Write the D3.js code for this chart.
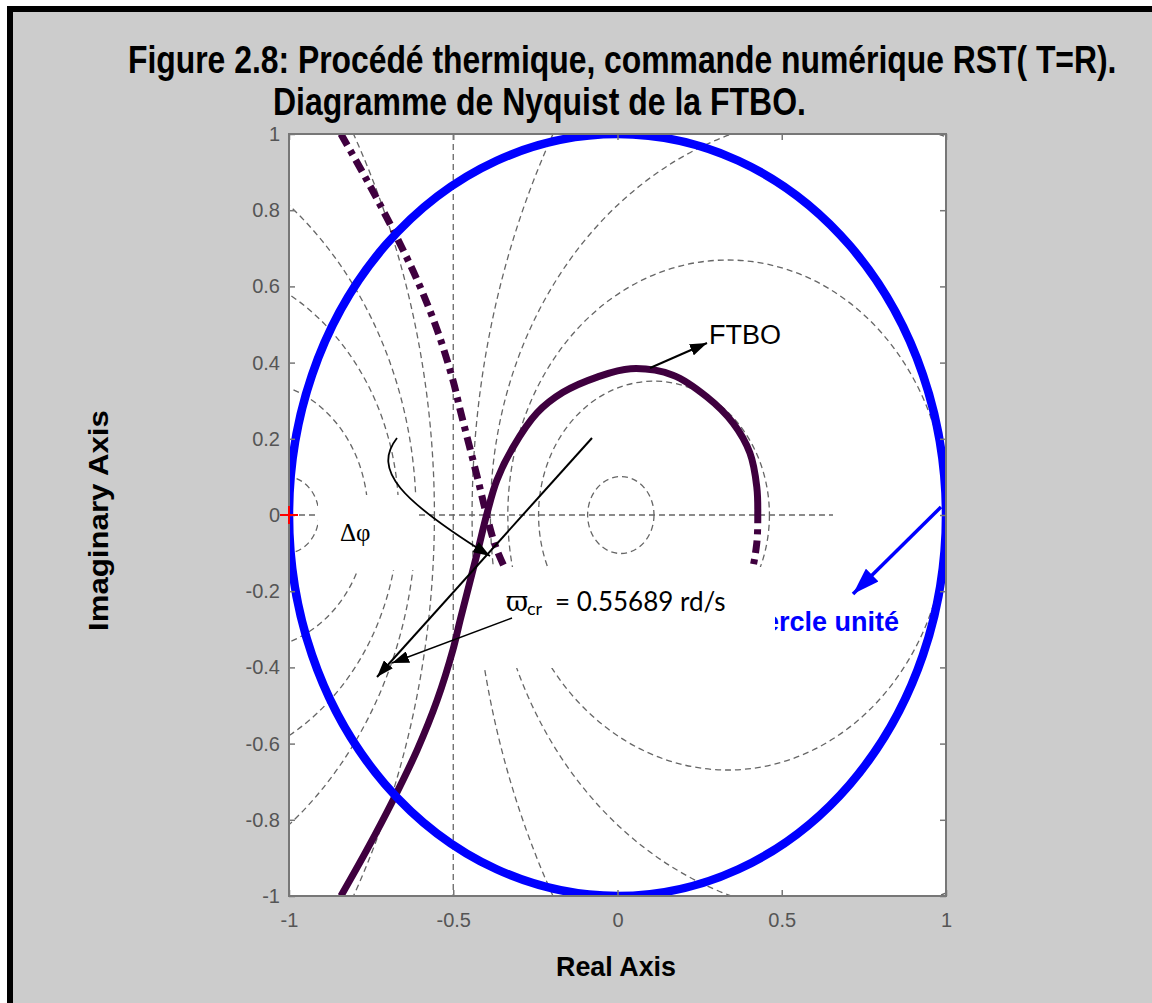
<!DOCTYPE html>
<html>
<head>
<meta charset="utf-8">
<script src="https://cdn.jsdelivr.net/npm/d3@7"></script>
<style>
  html, body { margin: 0; padding: 0; background: #fff; }
  svg { display: block; }
</style>
</head>
<body>
<script>
// FTBO, positive-frequency branch (omega from 0+ up to the Nyquist frequency): real and imaginary parts
const ftboRe = [-0.842, -0.763, -0.683, -0.610, -0.549, -0.501, -0.479, -0.427, -0.397, -0.367,
                -0.318, -0.245, -0.166, -0.062, 0.040, 0.169, 0.272, 0.352, 0.403, 0.424, 0.427];
const ftboIm = [-1.000, -0.879, -0.748, -0.617, -0.486, -0.354, -0.276, -0.100, 0.005, 0.092,
                0.178, 0.268, 0.322, 0.362, 0.384, 0.367, 0.310, 0.241, 0.163, 0.074, 0.000];

// closed-loop magnitude contours of the Nyquist grid (dB)
const gridDb = [-20, -10, -6, -4, -2, 0, 2, 4, 6, 10, 20];
// extent of the dashed real-axis grid line
const realAxisSpan = [-1, 0.656];

const xTicks = [-1, -0.5, 0, 0.5, 1];
const yTicks = [-1, -0.8, -0.6, -0.4, -0.2, 0, 0.2, 0.4, 0.6, 0.8, 1];

// critical point and crossover pulsation
const critical = [-1, 0];
const omegaCr = 0.55689;

const W = 1152, H = 1003;
const svg = d3.select("body").append("svg").attr("width", W).attr("height", H);

// figure frame
svg.append("rect").attr("width", W).attr("height", H).attr("fill", "#fff");
svg.append("rect").attr("x", 7).attr("y", 6).attr("width", W - 7).attr("height", H - 6).attr("fill", "#000");
svg.append("rect").attr("x", 13).attr("y", 12).attr("width", W - 13).attr("height", H - 12).attr("fill", "#cccccc");

const plot = { left: 289, right: 946, top: 134, bottom: 896 };
const x = d3.scaleLinear().domain([-1, 1]).range([plot.left, plot.right]);
const y = d3.scaleLinear().domain([-1, 1]).range([plot.bottom, plot.top]);

const defs = svg.append("defs");
defs.append("clipPath").attr("id", "axesClip").append("rect")
  .attr("x", plot.left).attr("y", plot.top)
  .attr("width", plot.right - plot.left).attr("height", plot.bottom - plot.top);

function arrowMarker(id, color, len, wid) {
  defs.append("marker").attr("id", id)
    .attr("markerUnits", "userSpaceOnUse")
    .attr("viewBox", `0 0 ${len} ${wid}`)
    .attr("refX", len).attr("refY", wid / 2)
    .attr("markerWidth", len).attr("markerHeight", wid)
    .attr("orient", "auto")
    .append("path").attr("d", `M0,0L${len},${wid / 2}L0,${wid}Z`).attr("fill", color);
}
arrowMarker("arrowBlack", "#000", 17, 12);
arrowMarker("arrowBlue", "#0000ff", 27, 18);

const sans = "'Liberation Sans', Arial, Helvetica, sans-serif";
const narrow = "'Liberation Sans Narrow', 'Liberation Sans', Arial, sans-serif";

// bold label squeezed horizontally to a given width (condensed figure font)
function fitted(parent, str, x0, y0, width, size, rotate) {
  const t = parent.append("text")
    .attr("font-family", narrow).attr("font-weight", "bold").attr("font-size", size)
    .attr("fill", "#000").text(str);
  const natural = t.node().getComputedTextLength();
  const s = width / natural;
  t.attr("transform", `translate(${x0},${y0})${rotate ? " rotate(-90)" : ""} scale(${s},1)`);
  return t;
}

// titles
fitted(svg, "Figure 2.8: Procédé thermique, commande numérique RST( T=R).", 128, 73, 989, 38);
fitted(svg, "Diagramme de Nyquist de la FTBO.", 273, 115, 533, 38);

// axes background
svg.append("rect").attr("x", plot.left).attr("y", plot.top)
  .attr("width", plot.right - plot.left).attr("height", plot.bottom - plot.top)
  .attr("fill", "#fff");

// Nyquist grid: M-circles
const gGrid = svg.append("g").attr("clip-path", "url(#axesClip)")
  .attr("fill", "none").attr("stroke", "#666").attr("stroke-width", 1.3)
  .attr("stroke-dasharray", "6,4");
gridDb.forEach(db => {
  if (db === 0) {
    gGrid.append("line").attr("x1", x(-0.5)).attr("x2", x(-0.5))
      .attr("y1", plot.top).attr("y2", plot.bottom);
  } else {
    const M = Math.pow(10, db / 20), M2 = M * M;
    const c = -M2 / (M2 - 1), r = Math.abs(M / (M2 - 1));
    gGrid.append("ellipse").attr("cx", x(c)).attr("cy", y(0))
      .attr("rx", x(c + r) - x(c)).attr("ry", y(0) - y(r));
  }
});
gGrid.append("line").attr("x1", x(realAxisSpan[0])).attr("x2", x(realAxisSpan[1]))
  .attr("y1", y(0)).attr("y2", y(0));

const ftbo = ftboRe.map((re, i) => [re, ftboIm[i]]);
const line = d3.line().x(d => x(d[0])).y(d => y(d[1])).curve(d3.curveCatmullRom.alpha(0.5));
const curveColor = "#3f003f";

// negative-frequency branch (complex conjugate), dash-dot
svg.append("path").attr("clip-path", "url(#axesClip)")
  .attr("d", line(ftbo.map(d => [d[0], -d[1]])))
  .attr("fill", "none").attr("stroke", curveColor).attr("stroke-width", 7)
  .attr("stroke-dasharray", "13,6,5,6");

// unit circle label (partly under the annotation box)
svg.append("text").attr("x", 899).attr("y", 631).attr("text-anchor", "end")
  .attr("font-family", sans).attr("font-weight", "bold").attr("font-size", 27)
  .attr("fill", "#0000ff").text("Cercle unité");

// white annotation boxes
svg.append("rect").attr("x", 318).attr("y", 495).attr("width", 99).attr("height", 75).attr("fill", "#fff");
svg.append("rect").attr("x", 470).attr("y", 567).attr("width", 305).attr("height", 101).attr("fill", "#fff");

// positive-frequency branch, solid
svg.append("path").attr("clip-path", "url(#axesClip)")
  .attr("d", line(ftbo))
  .attr("fill", "none").attr("stroke", curveColor).attr("stroke-width", 7)
  .attr("stroke-linejoin", "round");

// unit circle
svg.append("ellipse").attr("clip-path", "url(#axesClip)")
  .attr("cx", x(0)).attr("cy", y(0)).attr("rx", x(1) - x(0)).attr("ry", y(0) - y(1))
  .attr("fill", "none").attr("stroke", "#0000ff").attr("stroke-width", 8.5);

// axes box and ticks
const axisColor = "#777";
const fmt = d => String(d);
function styleAxis(g) {
  g.select(".domain").remove();
  g.selectAll(".tick line").attr("stroke", axisColor).attr("stroke-width", 1.5);
  g.selectAll(".tick text").attr("fill", "#555").attr("font-size", 20)
    .attr("font-family", sans);
}
svg.append("g").attr("transform", `translate(0,${plot.bottom})`)
  .call(d3.axisBottom(x).tickValues(xTicks).tickFormat(fmt).tickSize(-6).tickPadding(17))
  .call(styleAxis);
svg.append("g").attr("transform", `translate(0,${plot.top})`)
  .call(d3.axisTop(x).tickValues(xTicks).tickFormat("").tickSize(-6))
  .call(styleAxis);
svg.append("g").attr("transform", `translate(${plot.left},0)`)
  .call(d3.axisLeft(y).tickValues(yTicks).tickFormat(fmt).tickSize(-6).tickPadding(9))
  .call(styleAxis);
svg.append("g").attr("transform", `translate(${plot.right},0)`)
  .call(d3.axisRight(y).tickValues(yTicks).tickFormat("").tickSize(-6))
  .call(styleAxis);
svg.append("rect").attr("x", plot.left).attr("y", plot.top)
  .attr("width", plot.right - plot.left).attr("height", plot.bottom - plot.top)
  .attr("fill", "none").attr("stroke", axisColor).attr("stroke-width", 2);

// critical point marker (-1, 0)
const cp = svg.append("g").attr("stroke", "#ff0000").attr("stroke-width", 2);
cp.append("line").attr("x1", x(critical[0]) - 9).attr("x2", x(critical[0]) + 9)
  .attr("y1", y(critical[1])).attr("y2", y(critical[1]));
cp.append("line").attr("x1", x(critical[0])).attr("x2", x(critical[0]))
  .attr("y1", y(critical[1]) - 9).attr("y2", y(critical[1]) + 9);

// axis labels
fitted(svg, "Real Axis", 556, 976, 120, 28);
fitted(svg, "Imaginary Axis", 108, 631, 221, 28, true);

// annotations
const ann = svg.append("g").attr("fill", "none").attr("stroke", "#000");
ann.append("line").attr("x1", 650).attr("y1", 368).attr("x2", 707).attr("y2", 343)
  .attr("stroke-width", 2).attr("marker-end", "url(#arrowBlack)");
ann.append("line").attr("x1", 592).attr("y1", 438).attr("x2", 377).attr("y2", 677)
  .attr("stroke-width", 2).attr("marker-end", "url(#arrowBlack)");
ann.append("line").attr("x1", 512).attr("y1", 618).attr("x2", 392).attr("y2", 663)
  .attr("stroke-width", 1.5).attr("marker-end", "url(#arrowBlack)");
ann.append("path").attr("d", "M397,438C372,470 400,500 490,556")
  .attr("stroke-width", 1.8).attr("marker-end", "url(#arrowBlack)");
svg.append("line").attr("x1", 941).attr("y1", 507).attr("x2", 853).attr("y2", 594)
  .attr("stroke", "#0000ff").attr("stroke-width", 3.5).attr("marker-end", "url(#arrowBlue)");

svg.append("text").attr("x", 709).attr("y", 344)
  .attr("font-family", sans).attr("font-size", 27).attr("fill", "#000").text("FTBO");
svg.append("text").attr("x", 340).attr("y", 541)
  .attr("font-family", "'Liberation Serif', 'DejaVu Serif', serif").attr("font-size", 25)
  .attr("fill", "#000").text("Δφ");

const wl = svg.append("text").attr("y", 611).attr("fill", "#000");
wl.append("tspan").attr("x", 506).attr("font-family", "'DejaVu Serif', serif").attr("font-size", 27).text("ϖ");
wl.append("tspan").attr("x", 527).attr("dy", 4).attr("font-family", "Lato, sans-serif").attr("font-size", 18).text("cr");
wl.append("tspan").attr("x", 555).attr("dy", -4).attr("font-family", "Lato, sans-serif").attr("font-size", 26)
  .text(`= ${omegaCr} rd/s`);
</script>
</body>
</html>
